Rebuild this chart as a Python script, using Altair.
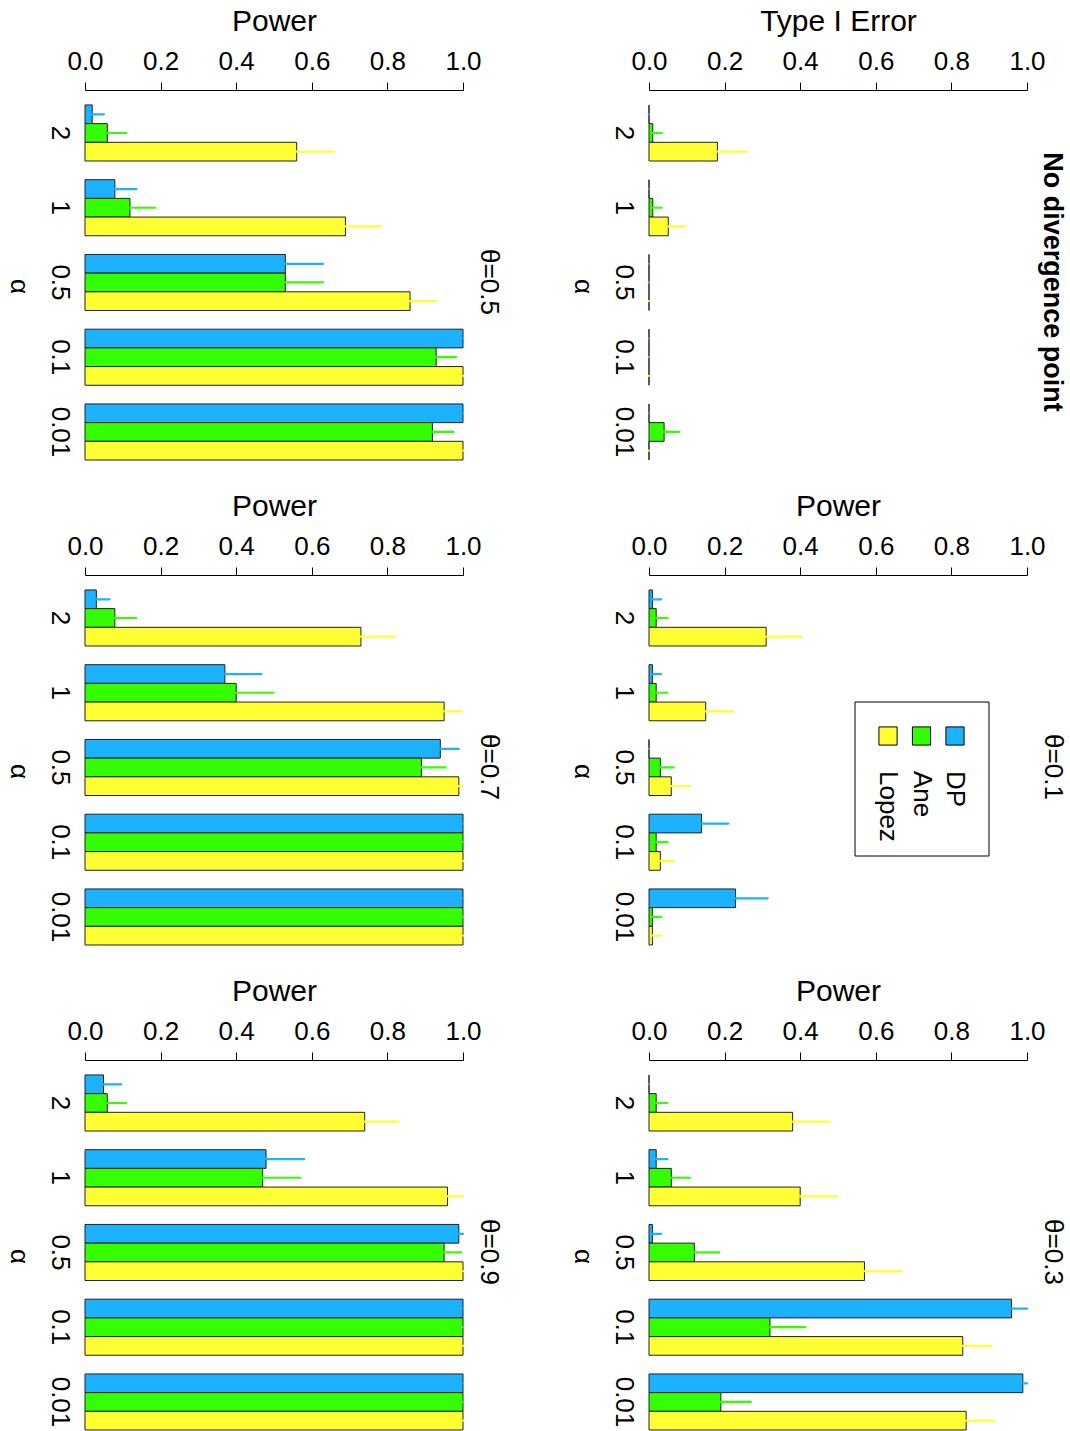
import altair as alt
import pandas as pd

FONT = "Liberation Sans"

alpha_levels = ["2", "1", "0.5", "0.1", "0.01"]
methods = ["DP", "Ane", "Lopez"]
method_colors = ["#1CB2FF", "#33FF00", "#FFFF33"]
x_ticks = [0.0, 0.2, 0.4, 0.6, 0.8, 1.0]

# rows: DP, Ane, Lopez ; columns follow alpha_levels
nodiv_val = [[0, 0, 0, 0, 0], [0.01, 0.01, 0, 0, 0.04], [0.181, 0.051, 0, 0, 0]]
nodiv_hi = [[0, 0, 0, 0, 0], [0.034, 0.034, 0, 0, 0.08], [0.259, 0.096, 0, 0, 0]]

t01_val = [[0.009, 0.009, 0, 0.139, 0.229], [0.019, 0.019, 0.03, 0.019, 0.009], [0.31, 0.15, 0.059, 0.03, 0.009]]
t01_hi = [[0.032, 0.032, 0, 0.21, 0.314], [0.049, 0.049, 0.065, 0.049, 0.032], [0.403, 0.222, 0.109, 0.065, 0.032]]

t03_val = [[0, 0.019, 0.009, 0.959, 0.989], [0.019, 0.059, 0.12, 0.32, 0.19], [0.38, 0.40, 0.57, 0.83, 0.839]]
t03_hi = [[0, 0.049, 0.032, 1.0, 1.0], [0.049, 0.109, 0.186, 0.414, 0.269], [0.477, 0.499, 0.669, 0.906, 0.914]]

t05_val = [[0.019, 0.079, 0.53, 1, 1], [0.059, 0.119, 0.53, 0.929, 0.919], [0.56, 0.689, 0.86, 1, 1]]
t05_hi = [[0.05, 0.136, 0.63, 1, 1], [0.109, 0.186, 0.63, 0.982, 0.975], [0.659, 0.783, 0.93, 1, 1]]

t07_val = [[0.03, 0.37, 0.94, 1, 1], [0.079, 0.40, 0.89, 1, 1], [0.73, 0.95, 0.989, 1, 1]]
t07_hi = [[0.065, 0.467, 0.989, 1, 1], [0.136, 0.499, 0.954, 1, 1], [0.82, 0.995, 1.0, 1, 1]]

t09_val = [[0.049, 0.479, 0.989, 1, 1], [0.059, 0.47, 0.95, 1, 1], [0.74, 0.959, 1, 1, 1]]
t09_hi = [[0.096, 0.58, 1, 1, 1], [0.109, 0.57, 0.995, 1, 1], [0.829, 1, 1, 1, 1]]

PW, PH = 378, 370


def make_df(val, hi):
    rows = []
    for i, m in enumerate(methods):
        for j, a in enumerate(alpha_levels):
            rows.append({"alpha": a, "method": m, "value": val[i][j], "hi": hi[i][j]})
    return pd.DataFrame(rows)


def panel(val, hi, xtitle, side_title, bold=False, legend=False):
    df = make_df(val, hi)
    x_enc = alt.X(
        "value:Q",
        scale=alt.Scale(domain=[0, 1], nice=False, zero=True),
        axis=alt.Axis(
            orient="top", values=x_ticks, format=".1f", grid=False,
            tickSize=8, tickColor="black", domainColor="black", tickWidth=1, domainWidth=1,
            labelFontSize=26, labelFont=FONT, labelColor="black", labelPadding=8,
            labelFlush=False, labelOverlap=False,
            title=xtitle, titleFontSize=30, titleFont=FONT, titleFontWeight="normal",
            titleColor="black", titlePadding=12,
        ),
    )
    y_enc = alt.Y(
        "alpha:N", sort=alpha_levels,
        scale=alt.Scale(paddingInner=0.25, paddingOuter=0.1, align=1),
        axis=alt.Axis(
            domain=False, ticks=False, labelAngle=90, labelAlign="center", labelBaseline="top",
            labelFontSize=26, labelFont=FONT, labelColor="black", labelPadding=13,
            title="α", titleAngle=90, titleBaseline="top", titleFontSize=26, titleFont=FONT,
            titleFontWeight="normal", titleColor="black", titlePadding=15, titleY=196,
        ),
    )
    yoff = alt.YOffset("method:N", sort=methods, scale=alt.Scale(paddingInner=0, paddingOuter=0))
    color_enc = alt.Color("method:N", scale=alt.Scale(domain=methods, range=method_colors), legend=None)

    base = alt.Chart(df)
    bars = base.mark_bar(stroke="#222222", strokeWidth=1, opacity=1).encode(
        x=x_enc, y=y_enc, yOffset=yoff, color=color_enc
    )
    rules = base.mark_rule(strokeWidth=2.2, strokeCap="round").encode(
        x=x_enc, x2="hi:Q", y=y_enc, yOffset=yoff, color=color_enc
    )
    layers = alt.layer(bars, rules)

    if legend:
        legend_df = pd.DataFrame({"method": methods})
        leg_x = alt.X(
            "method:N",
            scale=alt.Scale(type="point", padding=0, domain=["Lopez", "Ane", "DP"], range=[239, 306]),
            axis=None,
        )
        box = alt.Chart(pd.DataFrame({"k": [0]})).mark_rect(
            fill="white", stroke="black", strokeWidth=1
        ).encode(x=alt.value(206), x2=alt.value(340), y=alt.value(127), y2=alt.value(281))
        squares = alt.Chart(legend_df).mark_square(
            size=330, stroke="black", strokeWidth=1, opacity=1
        ).encode(x=leg_x, y=alt.value(161), color=color_enc)
        texts = alt.Chart(legend_df).mark_text(
            angle=90, align="left", baseline="middle", fontSize=26, font=FONT, color="black"
        ).encode(x=leg_x, y=alt.value(196), text="method:N")
        layers = alt.layer(layers, box, squares, texts).resolve_scale(x="independent")

    return layers.properties(
        width=PW, height=PH,
        title=alt.TitleParams(
            text=side_title, orient="right", anchor="middle", frame="group", angle=90,
            offset=-7 if bold else -5, fontSize=27 if bold else 26, font=FONT, color="black",
            fontWeight="bold" if bold else "normal", dx=7,
        ),
    )


p_nodiv = panel(nodiv_val, nodiv_hi, "Type I Error", "No divergence point", bold=True)
p01 = panel(t01_val, t01_hi, "Power", "θ=0.1", legend=True)
p03 = panel(t03_val, t03_hi, "Power", "θ=0.3")
p05 = panel(t05_val, t05_hi, "Power", "θ=0.5")
p07 = panel(t07_val, t07_hi, "Power", "θ=0.7")
p09 = panel(t09_val, t09_hi, "Power", "θ=0.9")

chart = alt.concat(
    p05, p_nodiv, p07, p01, p09, p03,
    columns=2, spacing={"row": 115, "column": 186}, bounds="flush",
).properties(
    padding={"left": 5, "top": 6, "right": 0, "bottom": 0},
    background="white",
).configure_view(stroke=None)

chart.save("out.html", embed_options={"renderer": "svg", "actions": False})
